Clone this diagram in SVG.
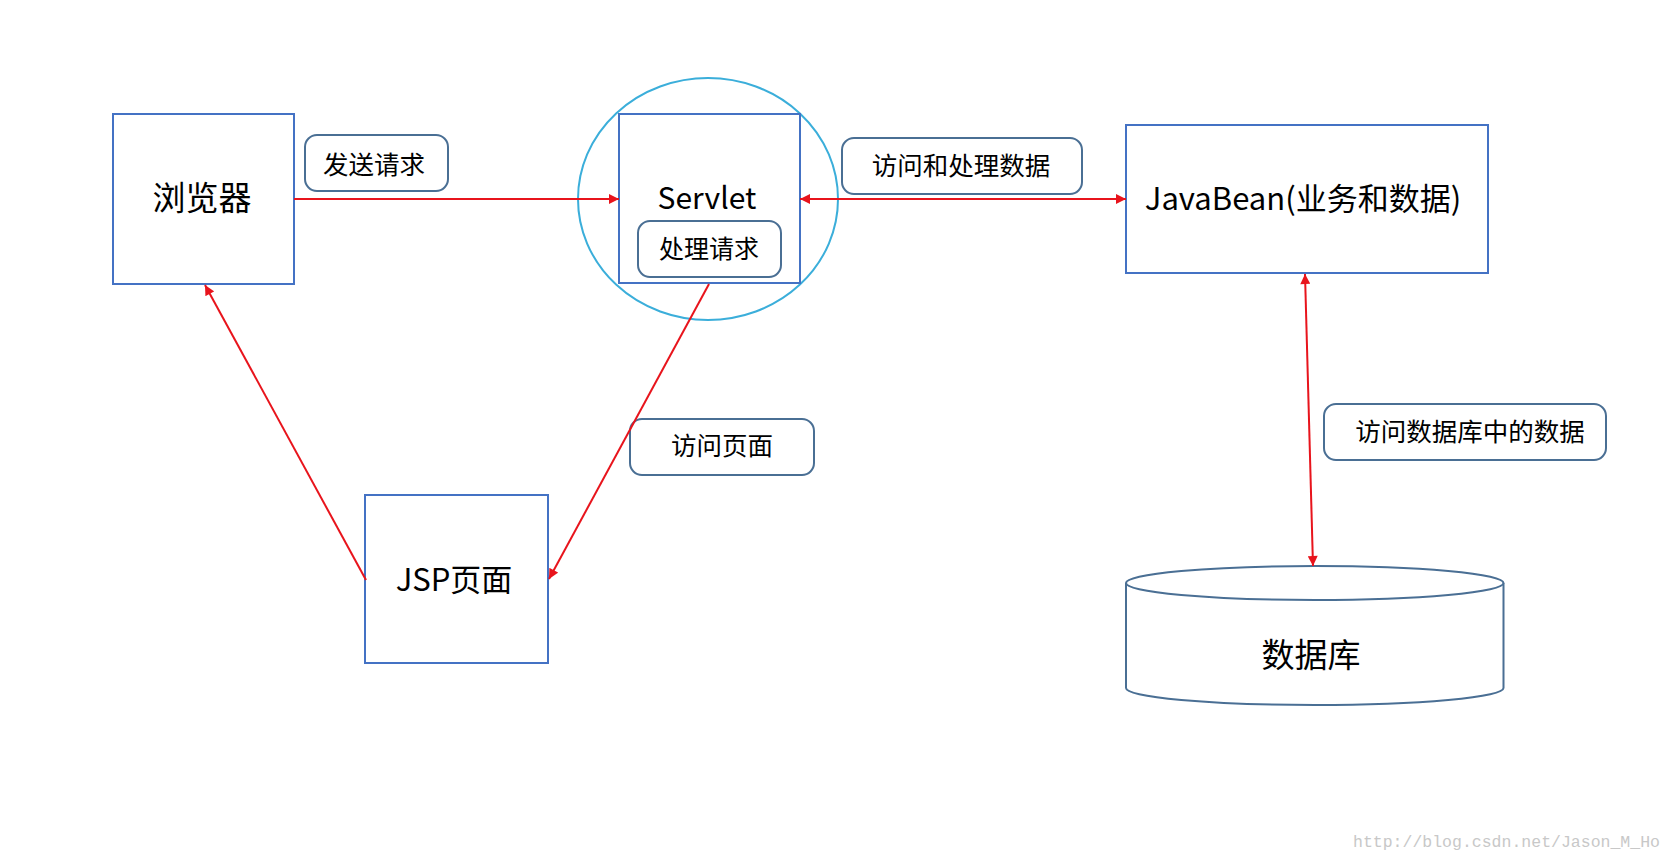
<svg xmlns="http://www.w3.org/2000/svg" width="1672" height="864" viewBox="0 0 1672 864">
<style>
.box{fill:#fff;stroke:#4472C4;stroke-width:2}
.lbl{fill:#fff;stroke:#4A6F94;stroke-width:2}
.big{font-family:"Noto Sans CJK SC","Noto Sans",sans-serif;font-size:32px;fill:#000;text-anchor:middle}
.sm{font-family:"Noto Sans CJK SC","Noto Sans",sans-serif;font-size:25.5px;fill:#000;text-anchor:middle}
.con{stroke:#E8141C;stroke-width:2;fill:none}
.wm{font-family:"Liberation Mono",monospace;font-size:16.5px;fill:#c8c8c8}
</style>
<defs>
<marker id="ah" viewBox="0 0 10 10" refX="10" refY="5" markerWidth="11" markerHeight="10" markerUnits="userSpaceOnUse" orient="auto-start-reverse">
<path d="M0,0 L10,5 L0,10 z" fill="#E8141C"/>
</marker>
</defs>
<rect width="1672" height="864" fill="#fff"/>
<g id="browser">
<rect class="box" x="113" y="114" width="181" height="170"/>
<text class="big" x="202" y="210" style="font-size:33px">浏览器</text>
</g>
<g id="servlet">
<ellipse cx="708" cy="199" rx="130" ry="121" fill="none" stroke="#3BAEDA" stroke-width="2"/>
<rect class="box" x="619" y="114" width="181" height="169" fill="none"/>
<text class="big" x="707" y="209" style="font-size:30px">Servlet</text>
<rect class="lbl" x="638" y="221" width="143" height="56" rx="12"/>
<text class="sm" x="709" y="258" style="font-size:25px">处理请求</text>
</g>
<g id="javabean">
<rect class="box" x="1126" y="125" width="362" height="148"/>
<text class="big" x="1303" y="210" style="font-size:31px">JavaBean(业务和数据)</text>
</g>
<g id="jsp">
<rect class="box" x="365" y="495" width="183" height="168"/>
<text class="big" x="454" y="591" style="font-size:31px">JSP页面</text>
</g>
<g id="database">
<path d="M1126,583 L1126,688 A188.75,17 0 0 0 1503.5,688 L1503.5,583" fill="#fff" stroke="#4A6F94" stroke-width="2"/>
<ellipse cx="1314.75" cy="583" rx="188.75" ry="17" fill="#fff" stroke="#4A6F94" stroke-width="2"/>
<text class="big" x="1311" y="667" style="font-size:33px">数据库</text>
</g>
<g id="label-send">
<rect class="lbl" x="305" y="135" width="143" height="56" rx="12"/>
<text class="sm" x="374" y="174">发送请求</text>
</g>
<g id="label-access-process">
<rect class="lbl" x="842" y="138" width="240" height="56" rx="12"/>
<text class="sm" x="961" y="175">访问和处理数据</text>
</g>
<g id="label-page">
<rect class="lbl" x="630" y="419" width="184" height="56" rx="12"/>
<text class="sm" x="722" y="455">访问页面</text>
</g>
<g id="label-db">
<rect class="lbl" x="1324" y="404" width="282" height="56" rx="12"/>
<text class="sm" x="1470" y="441">访问数据库中的数据</text>
</g>
<g id="connectors">
<line class="con" x1="294" y1="199" x2="619" y2="199" marker-end="url(#ah)"/>
<line class="con" x1="800" y1="199" x2="1126" y2="199" marker-start="url(#ah)" marker-end="url(#ah)"/>
<line class="con" x1="1305" y1="274" x2="1313" y2="566" marker-start="url(#ah)" marker-end="url(#ah)"/>
<line class="con" x1="709" y1="284" x2="549" y2="579" marker-end="url(#ah)"/>
<line class="con" x1="366" y1="580" x2="205" y2="285" marker-end="url(#ah)"/>
</g>
<text class="wm" x="1353" y="847">http://blog.csdn.net/Jason_M_Ho</text>
</svg>
